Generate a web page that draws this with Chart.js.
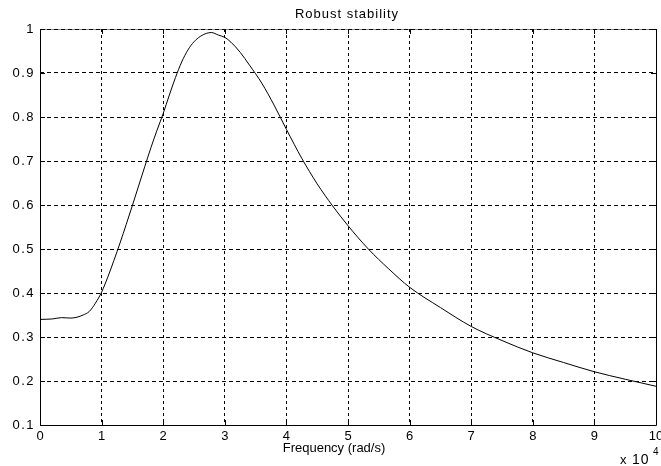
<!DOCTYPE html>
<html>
<head>
<meta charset="utf-8">
<title>Robust stability</title>
<script src="https://cdn.jsdelivr.net/npm/chart.js@4.4.1/dist/chart.umd.min.js"></script>
<style>
  html, body { margin: 0; padding: 0; background: #fff; overflow: hidden; }
  #wrap { width: 661px; height: 466px; position: relative; }
</style>
</head>
<body>
<div id="wrap"><canvas id="c" width="661" height="466"></canvas></div>
<script>
// Frequency axis values are in units of 1e4 rad/s
const frequency = [0, 0.2, 0.35, 0.5, 0.6, 0.7, 0.8, 0.9, 1.0, 1.1, 1.2, 1.3, 1.4, 1.5, 1.6, 1.7, 1.8, 1.9,
  2.0, 2.1, 2.2, 2.3, 2.4, 2.5, 2.6, 2.7, 2.78, 2.9, 3.0, 3.1, 3.25, 3.4, 3.6, 3.8, 4.0, 4.25, 4.5, 4.75,
  5.0, 5.33, 5.66, 6.0, 6.5, 7.0, 7.5, 8.0, 8.5, 9.0, 9.5, 10.0];
const robustStability = [0.340, 0.341, 0.344, 0.343, 0.345, 0.350, 0.358, 0.377, 0.402, 0.436, 0.474, 0.514,
  0.556, 0.599, 0.643, 0.687, 0.730, 0.770, 0.808, 0.850, 0.890, 0.925, 0.952, 0.971, 0.983, 0.990, 0.992,
  0.986, 0.981, 0.970, 0.947, 0.918, 0.877, 0.827, 0.772, 0.706, 0.648, 0.598, 0.553, 0.500, 0.455, 0.413,
  0.367, 0.324, 0.292, 0.264, 0.242, 0.221, 0.204, 0.188];

const xTickValues = [0, 1, 2, 3, 4, 5, 6, 7, 8, 9, 10];
const xTickLabels = ['0', '1', '2', '3', '4', '5', '6', '7', '8', '9', '10'];
const yTickValues = [0.1, 0.2, 0.3, 0.4, 0.5, 0.6, 0.7, 0.8, 0.9, 1];
const yTickLabels = ['0.1', '0.2', '0.3', '0.4', '0.5', '0.6', '0.7', '0.8', '0.9', '1'];

const titleText = 'Robust stability';
const xAxisLabel = 'Frequency (rad/s)';
const xScaleTimes = 'x';
const xScaleBase = '10';
const xScaleExponent = '4';

const FONT = '"Liberation Sans", Arial, sans-serif';

const points = frequency.map((f, i) => ({ x: f, y: robustStability[i] }));

// Axes box, inward tick marks and the annotation texts
const axesDecor = {
  id: 'axesDecor',
  beforeDraw(chart) {
    const { ctx, chartArea: a } = chart;
    const L = Math.round(a.left) + 0.5, R = Math.round(a.right) + 0.5;
    const T = Math.round(a.top) + 0.5, B = Math.round(a.bottom) + 0.5;
    ctx.save();
    ctx.lineWidth = 1;
    ctx.strokeStyle = '#8a8a8a';
    ctx.beginPath(); ctx.moveTo(L, T); ctx.lineTo(R, T); ctx.stroke();
    ctx.strokeStyle = '#000';
    ctx.beginPath();
    ctx.moveTo(L, T); ctx.lineTo(L, B); ctx.lineTo(R, B); ctx.lineTo(R, T);
    ctx.stroke();
    ctx.restore();
  },
  afterDatasetsDraw(chart) {
    const { ctx, chartArea: a, scales } = chart;
    const len = 5;
    ctx.save();
    ctx.lineWidth = 1;
    ctx.strokeStyle = '#000';
    ctx.beginPath();
    scales.x.ticks.forEach(t => {
      const px = Math.round(scales.x.getPixelForValue(t.value)) + 0.5;
      ctx.moveTo(px, a.bottom); ctx.lineTo(px, a.bottom - len);
      ctx.moveTo(px, a.top); ctx.lineTo(px, a.top + len);
    });
    scales.y.ticks.forEach(t => {
      const py = Math.round(scales.y.getPixelForValue(t.value)) + 0.5;
      ctx.moveTo(a.left, py); ctx.lineTo(a.left + len, py);
      ctx.moveTo(a.right, py); ctx.lineTo(a.right - len, py);
    });
    ctx.stroke();
    ctx.restore();
    // y tick labels (drawn in the next layer) use slightly wider spacing
    ctx.letterSpacing = '1.5px';
  },
  afterDraw(chart) {
    const { ctx, chartArea: a } = chart;
    ctx.letterSpacing = '0px';
    ctx.save();
    ctx.fillStyle = '#000';
    ctx.textBaseline = 'alphabetic';

    ctx.font = '13px ' + FONT;
    ctx.letterSpacing = '1px';
    ctx.textAlign = 'center';
    ctx.fillText(titleText, (a.left + a.right) / 2 - 1, 18);

    ctx.letterSpacing = '0px';
    ctx.fillText(xAxisLabel, (a.left + a.right) / 2 - 14, 452);

    ctx.textAlign = 'left';
    ctx.fillText(xScaleTimes, a.right - 36, 464);
    ctx.font = '14px ' + FONT;
    ctx.letterSpacing = '1px';
    ctx.fillText(xScaleBase, a.right - 24, 464);
    ctx.letterSpacing = '0px';
    ctx.font = '10px ' + FONT;
    ctx.fillText(xScaleExponent, a.right - 3, 455);
    ctx.restore();
  }
};

new Chart(document.getElementById('c'), {
  type: 'line',
  data: {
    datasets: [{
      data: points,
      borderColor: '#000',
      borderWidth: 1,
      pointRadius: 0,
      fill: false,
      cubicInterpolationMode: 'monotone'
    }]
  },
  options: {
    responsive: false,
    animation: false,
    devicePixelRatio: 1,
    layout: { padding: { top: 29, right: 5, left: 0, bottom: 0 } },
    plugins: {
      legend: { display: false },
      title: { display: false },
      tooltip: { enabled: false }
    },
    scales: {
      x: {
        type: 'linear',
        min: 0,
        max: 10,
        afterBuildTicks: s => { s.ticks = xTickValues.map(v => ({ value: v })); },
        afterFit: s => { s.height = 41; s.paddingLeft = 0; s.paddingRight = 0; },
        ticks: {
          callback: v => xTickLabels[xTickValues.indexOf(v)],
          font: { family: FONT, size: 13 },
          color: '#000',
          padding: 4,
          maxRotation: 0,
          autoSkip: false
        },
        grid: { color: '#000', lineWidth: 1, drawTicks: false },
        border: { display: false, dash: [3, 3] }
      },
      y: {
        type: 'linear',
        min: 0.1,
        max: 1,
        afterBuildTicks: s => { s.ticks = yTickValues.map(v => ({ value: v })); },
        afterFit: s => { s.width = 40; s.paddingTop = 0; s.paddingBottom = 0; },
        ticks: {
          callback: v => yTickLabels[yTickValues.indexOf(v)],
          font: { family: FONT, size: 13 },
          color: '#000',
          padding: 5,
          autoSkip: false,
          z: 1
        },
        grid: { color: '#000', lineWidth: 1, drawTicks: false },
        border: { display: false, dash: [4, 3] }
      }
    }
  },
  plugins: [axesDecor]
});
</script>
</body>
</html>
